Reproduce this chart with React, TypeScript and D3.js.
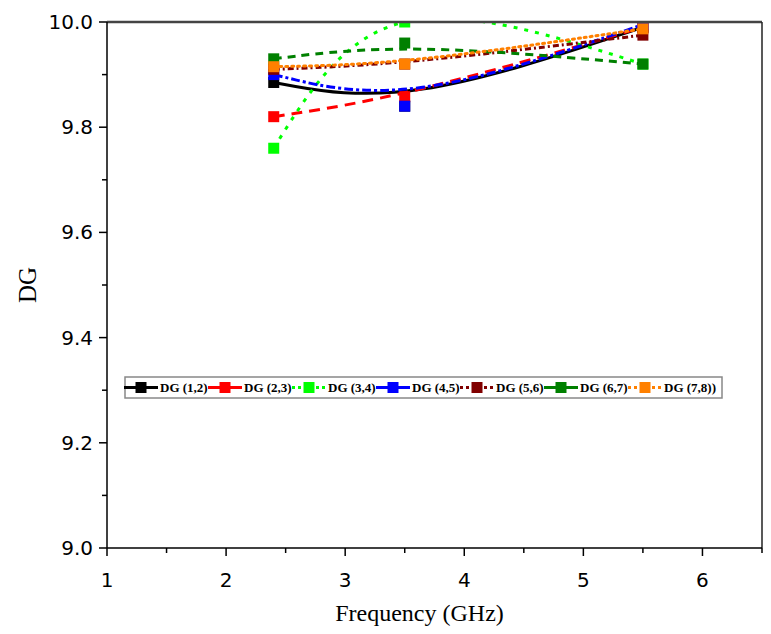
import React, { useEffect, useRef } from "react";
import * as d3 from "d3";

// frequencies (GHz) where DG was measured
const freqs = [2.4, 3.5, 5.5];

// DG values per antenna pair
const dg12 = [9.885, 9.84, 9.99];
const dg23 = [9.82, 9.858, 9.99];
const dg34 = [9.76, 10.0, 9.92];
const dg45 = [9.9, 9.84, 9.995];
const dg56 = [9.91, 9.92, 9.975];
const dg67 = [9.93, 9.96, 9.92];
const dg78 = [9.915, 9.92, 9.987];

const seriesNames = ["DG (1,2)", "DG (2,3)", "DG (3,4)", "DG (4,5)", "DG (5,6)", "DG (6,7)", "DG (7,8))"];
const seriesColors = ["#000000", "#ff0000", "#00ff00", "#0000ff", "#800000", "#008000", "#ff8000"];
const seriesDash = ["none", "11,7", "4,7", "9,3,3,3", "6,3,2,3", "8,6", "2,4"];

const xTicks = [1, 2, 3, 4, 5, 6];
const xMinor = [1.5, 2.5, 3.5, 4.5, 5.5, 6.5];
const yTicks = [9.0, 9.2, 9.4, 9.6, 9.8, 10.0];
const yMinor = [9.1, 9.3, 9.5, 9.7, 9.9];

const W = 771;
const H = 634;

export default function App() {
  const ref = useRef<SVGSVGElement>(null);

  useEffect(() => {
    const svg = d3.select(ref.current);
    svg.selectAll("*").remove();

    const left = 107, right = 762, top = 22, bottom = 548;
    const x = d3.scaleLinear().domain([1, 6.5]).range([left, right]);
    const y = d3.scaleLinear().domain([9.0, 10.0]).range([bottom, top]);

    const allSeries = [dg12, dg23, dg34, dg45, dg56, dg67, dg78];
    // Origin style: most lines are b-spline smoothed, the (3,4) one is a spline through points
    const curves = [d3.curveBasis, d3.curveBasis, d3.curveNatural, d3.curveBasis, d3.curveBasis, d3.curveBasis, d3.curveBasis];

    svg.append("defs").append("clipPath").attr("id", "plotclip")
      .append("rect").attr("x", left).attr("y", top).attr("width", right - left).attr("height", bottom - top);

    const plot = svg.append("g").attr("clip-path", "url(#plotclip)");

    allSeries.forEach((vals, i) => {
      const pts: [number, number][] = vals.map((v, j) => [freqs[j], v]);
      const line = d3.line<[number, number]>()
        .x(d => x(d[0]))
        .y(d => y(d[1]))
        .curve(curves[i]);
      plot.append("path")
        .attr("d", line(pts))
        .attr("fill", "none")
        .attr("stroke", seriesColors[i])
        .attr("stroke-width", 3)
        .attr("stroke-dasharray", seriesDash[i])
        .attr("stroke-linecap", i === 6 ? "round" : "butt");
      plot.selectAll(null)
        .data(pts)
        .join("rect")
        .attr("x", d => x(d[0]) - 5.5)
        .attr("y", d => y(d[1]) - 5.5)
        .attr("width", 11)
        .attr("height", 11)
        .attr("fill", seriesColors[i]);
    });

    // frame
    svg.append("line").attr("x1", left).attr("x2", right).attr("y1", top).attr("y2", top)
      .attr("stroke", "#444").attr("stroke-width", 2.5);
    svg.append("line").attr("x1", right).attr("x2", right).attr("y1", top).attr("y2", bottom)
      .attr("stroke", "#222").attr("stroke-width", 1.5);
    svg.append("line").attr("x1", left).attr("x2", right).attr("y1", bottom).attr("y2", bottom)
      .attr("stroke", "#000").attr("stroke-width", 1.5);
    svg.append("line").attr("x1", left).attr("x2", left).attr("y1", top).attr("y2", bottom)
      .attr("stroke", "#000").attr("stroke-width", 1.5);

    // x ticks
    xTicks.forEach(t => {
      svg.append("line").attr("x1", x(t)).attr("x2", x(t)).attr("y1", bottom).attr("y2", bottom + 8)
        .attr("stroke", "#000").attr("stroke-width", 1.5);
      svg.append("text").attr("x", x(t)).attr("y", bottom + 39)
        .attr("text-anchor", "middle")
        .style("font-family", "'DejaVu Sans', sans-serif").style("font-size", "20px")
        .text(d3.format("d")(t));
    });
    xMinor.forEach(t => {
      svg.append("line").attr("x1", x(t)).attr("x2", x(t)).attr("y1", bottom).attr("y2", bottom + 5)
        .attr("stroke", "#000").attr("stroke-width", 1.5);
    });

    // y ticks
    yTicks.forEach(t => {
      svg.append("line").attr("x1", left - 8).attr("x2", left).attr("y1", y(t)).attr("y2", y(t))
        .attr("stroke", "#000").attr("stroke-width", 1.5);
      svg.append("text").attr("x", left - 14).attr("y", y(t) + 7)
        .attr("text-anchor", "end")
        .style("font-family", "'DejaVu Sans', sans-serif").style("font-size", "20px")
        .text(d3.format(".1f")(t));
    });
    yMinor.forEach(t => {
      svg.append("line").attr("x1", left - 5).attr("x2", left).attr("y1", y(t)).attr("y2", y(t))
        .attr("stroke", "#000").attr("stroke-width", 1.5);
    });

    // axis titles
    svg.append("text").attr("x", (left + right) / 2 - 15).attr("y", 621)
      .attr("text-anchor", "middle")
      .style("font-family", "'Liberation Serif', serif").style("font-size", "24px")
      .text("Frequency (GHz)");
    svg.append("text")
      .attr("transform", `translate(36, ${(top + bottom) / 2}) rotate(-90)`)
      .attr("text-anchor", "middle")
      .style("font-family", "'Liberation Serif', serif").style("font-size", "25px")
      .text("DG");

    // legend
    const lg = svg.append("g");
    lg.append("rect").attr("x", 125).attr("y", 377).attr("width", 597).attr("height", 21)
      .attr("fill", "white").attr("stroke", "#888").attr("stroke-width", 1.5);
    seriesNames.forEach((name, i) => {
      const cx = 141 + 84 * i;
      const cy = 387.5;
      lg.append("line").attr("x1", cx - 17).attr("x2", cx + 17).attr("y1", cy).attr("y2", cy)
        .attr("stroke", seriesColors[i]).attr("stroke-width", 3)
        .attr("stroke-dasharray", i === 0 || i === 1 || i === 3 || i === 5 ? "none" : "3,3");
      lg.append("rect").attr("x", cx - 5.5).attr("y", cy - 5.5).attr("width", 11).attr("height", 11)
        .attr("fill", seriesColors[i]);
      lg.append("text").attr("x", cx + 19).attr("y", cy + 4.5)
        .style("font-family", "'Liberation Serif', serif").style("font-size", "13px")
        .style("font-weight", "bold")
        .text(name);
    });
  }, []);

  return (
    <svg ref={ref} width={W} height={H}
      style={{ position: "absolute", left: 0, top: 0, background: "white" }} />
  );
}
